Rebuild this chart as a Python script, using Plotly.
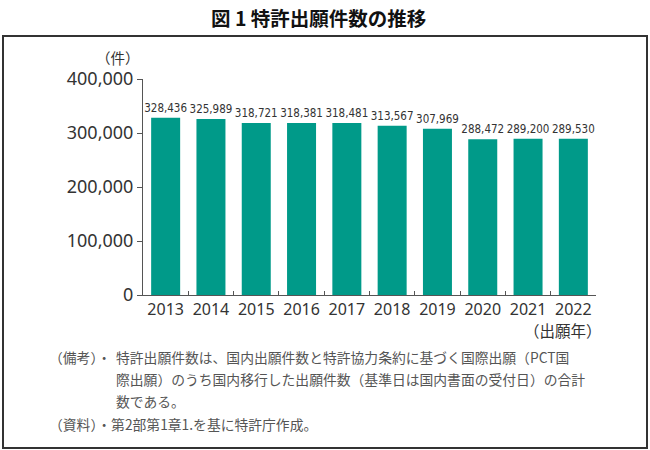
import plotly.graph_objects as go

years = ["2013", "2014", "2015", "2016", "2017", "2018", "2019", "2020", "2021", "2022"]
counts = [328436, 325989, 318721, 318381, 318481, 313567, 307969, 288472, 289200, 289530]
y_ticks = [0, 100000, 200000, 300000, 400000]
y_tick_labels = ["0", "100,000", "200,000", "300,000", "400,000"]

W, H = 650, 450
L, R, T, B = 143, 596, 79, 295

def px(x):
    return (x - L) / (R - L)

def py(y):
    return (B - y) / (B - T)

JP = "Noto Sans CJK JP"
fig = go.Figure()
fig.add_trace(go.Bar(
    x=years, y=counts,
    marker=dict(color="#009A89", line=dict(width=0)),
    text=[f"{v:,}" for v in counts],
    textposition="outside",
    constraintext="none",
    textfont=dict(family="DejaVu Sans Condensed, Noto Sans", size=11.5, color="#333333"),
    cliponaxis=False,
    width=0.64,
))

note_font = dict(family=JP, size=13.8, color="#555555")

fig.update_layout(
    width=W, height=H,
    margin=dict(l=L, r=W - R, t=T, b=H - B),
    paper_bgcolor="white", plot_bgcolor="white",
    showlegend=False,
    font=dict(family=JP, color="#333333"),
    xaxis=dict(
        showline=True, linecolor="#555555", linewidth=1,
        ticks="inside", tickson="boundaries", ticklen=4, tickcolor="#555555",
        tickfont=dict(family="Noto Sans", size=16, color="#333333"),
        tickangle=0, automargin=False,
        showgrid=False,
    ),
    yaxis=dict(
        range=[0, 400000],
        tickvals=y_ticks, ticktext=y_tick_labels,
        showline=True, linecolor="#555555", linewidth=1,
        ticks="outside", ticklen=5, tickcolor="#555555",
        tickfont=dict(family="Noto Sans", size=18, color="#333333"),
        showgrid=False, zeroline=False, automargin=False,
    ),
    shapes=[
        dict(type="rect", xref="paper", yref="paper",
             x0=px(3), x1=px(647), y0=py(448), y1=py(36),
             line=dict(color="#333333", width=2)),
    ],
    annotations=[
        dict(text="<b>図 1 特許出願件数の推移</b>", xref="paper", yref="paper",
             x=px(318), y=py(18), showarrow=False, xanchor="center", yanchor="middle",
             font=dict(family=JP, size=19.5, color="#111111")),
        dict(text="（件）", xref="paper", yref="paper",
             x=px(118), y=py(58), showarrow=False, xanchor="center", yanchor="middle",
             font=dict(family=JP, size=14.5, color="#333333")),
        dict(text="（出願年）", xref="paper", yref="paper",
             x=px(604), y=py(330), showarrow=False, xanchor="right", yanchor="middle",
             font=dict(family=JP, size=15.5, color="#333333")),
        dict(text="（備考）・", xref="paper", yref="paper",
             x=px(47), y=py(357), showarrow=False, xanchor="left", yanchor="middle",
             font=note_font),
        dict(text="特許出願件数は、国内出願件数と特許協力条約に基づく国際出願（PCT国", xref="paper", yref="paper",
             x=px(114), y=py(357), showarrow=False, xanchor="left", yanchor="middle",
             font=note_font),
        dict(text="際出願）のうち国内移行した出願件数（基準日は国内書面の受付日）の合計", xref="paper", yref="paper",
             x=px(114), y=py(379), showarrow=False, xanchor="left", yanchor="middle",
             font=note_font),
        dict(text="数である。", xref="paper", yref="paper",
             x=px(114), y=py(401), showarrow=False, xanchor="left", yanchor="middle",
             font=note_font),
        dict(text="（資料）・第2部第1章1.を基に特許庁作成。", xref="paper", yref="paper",
             x=px(47), y=py(424), showarrow=False, xanchor="left", yanchor="middle",
             font=note_font),
    ],
)

fig.write_html("out.html", config={"displayModeBar": False},
               post_script="document.body.style.margin='0';document.body.style.padding='0';")
